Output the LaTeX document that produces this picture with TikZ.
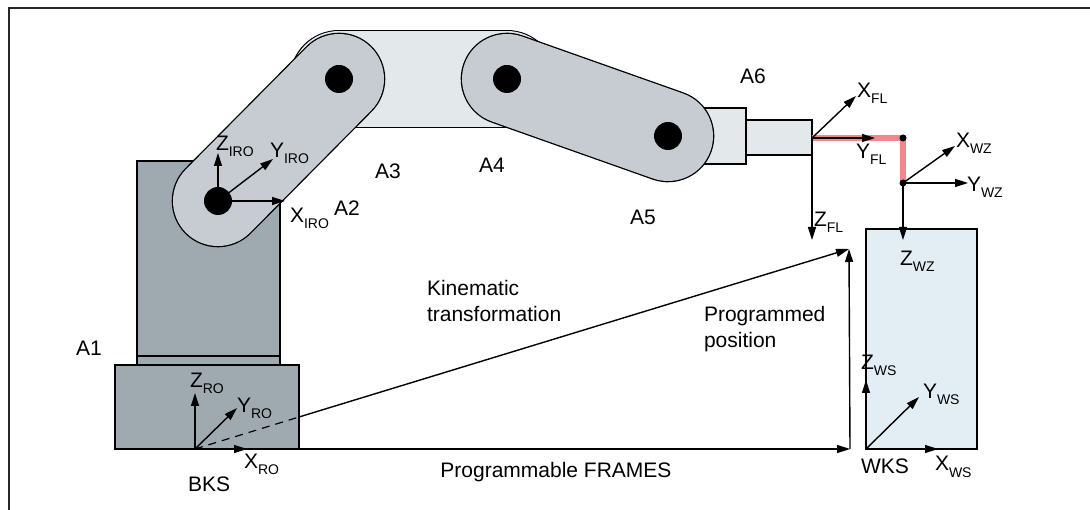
\documentclass[tikz,border=0pt]{standalone}
\usepackage{fontspec}
\setmainfont{Liberation Sans}
\usetikzlibrary{arrows.meta}
\definecolor{pedestal}{HTML}{9EA9B0}
\definecolor{linkgrey}{HTML}{C6CCD2}
\definecolor{lightpart}{HTML}{E3E8EB}
\definecolor{workpiece}{HTML}{E2EEF3}
\definecolor{tcpred}{HTML}{EF878C}
% axis name with lowered subscript
\newcommand\axl[2]{#1\raisebox{-6pt}{\fontsize{14}{14}\selectfont #2}}
\begin{document}
\begin{tikzpicture}[x=1pt,y=-1pt,
  every node/.style={font=\fontsize{21}{26}\selectfont, inner sep=0pt, outer sep=0pt},
  lbl/.style={anchor=base west},
  axis/.style={line width=1.4pt, -{Triangle[length=13pt,width=8pt]}},
  part/.style={draw=black, line width=1.3pt},
  dot/.style={circle, fill=black, minimum size=#1, inner sep=0pt},
]
\useasboundingbox (0,0) rectangle (1090,510);

% outer frame (top and left edges)
\coordinate (FB) at (9,510);
\coordinate (FC) at (9,8);
\coordinate (FR) at (1090,8);
\draw[line width=2.2pt, draw=black!85] (FB) -- (FC) -- (FR);

% joint centres
\coordinate (J2) at (218,201);
\coordinate (J3) at (339,79);
\coordinate (J4) at (507,79);
\coordinate (J5) at (668,136);

% robot pedestal and base
\draw[part, fill=pedestal] (137,161) rectangle (280,365);
\draw[part] (137,356) -- (280,356);
\draw[part, fill=pedestal] (115,365) rectangle (299,449);

% connector between the two arms
\draw[line cap=round, line width=98.6pt] (J3) -- (J4);
\draw[line cap=round, line width=96pt, lightpart] (J3) -- (J4);

% upper arm
\draw[line cap=round, line width=92.6pt] (J2) -- (J3);
\draw[line cap=round, line width=90pt, linkgrey] (J2) -- (J3);

% wrist and flange stub
\draw[part, fill=lightpart] (690,108) rectangle (746,164);
\draw[part, fill=lightpart] (746,120) rectangle (812,155);

% forearm
\draw[line cap=round, line width=92.6pt] (J4) -- (J5);
\draw[line cap=round, line width=90pt, linkgrey] (J4) -- (J5);

% workpiece
\draw[part, fill=workpiece] (866,229) rectangle (977,449);

% IRO frame at A2
\draw[axis] (J2) -- (218,153);
\draw[axis] (J2) -- (273,159);
\draw[axis] (J2) -- (285,201);

% joint markers
\node[dot=28pt] (D2) at (J2) {};
\node[dot=28pt] (D3) at (J3) {};
\node[dot=28pt] (D4) at (J4) {};
\node[dot=28pt] (D5) at (J5) {};

% tool offset (flange to tool centre point)
\coordinate (FL) at (812,138);
\coordinate (TK) at (903,138);
\coordinate (WZ) at (903,183);
\draw[tcpred, line width=6pt] (FL) -- (TK) -- (WZ);
\node[dot=7pt] (DK) at (TK) {};
\node[dot=7pt] (DW) at (WZ) {};

% flange frame
\draw[axis] (FL) -- (856,96);
\draw[axis] (FL) -- (875,138);
\draw[axis] (FL) -- (812,240);

% tool frame
\draw[axis] (WZ) -- (955,146);
\draw[axis] (WZ) -- (968,183);
\draw[axis] (WZ) -- (903,240);

% base frame
\coordinate (ORO) at (195,449);
\draw[axis] (ORO) -- (195,393);
\draw[axis] (ORO) -- (237,408);
\draw[axis] (ORO) -- (247,449);

% workpiece frame
\coordinate (OWS) at (866,449);
\draw[axis] (OWS) -- (866,380);
\draw[axis] (OWS) -- (919,397);
\draw[axis] (OWS) -- (938,449);

% transformations
\coordinate (P) at (849,249);
\coordinate (Q) at (850,449);
\coordinate (KT) at (299,417);
\draw[line width=1.2pt, dash pattern=on 8pt off 6pt] (ORO) -- (KT);
\draw[axis] (KT) -- (P);
\draw[axis] (ORO) -- (Q);
\draw[axis] (Q) -- (P);

% labels
\node[lbl] (lA1) at (76,356) {A1};
\node[lbl] (lA2) at (334,216) {A2};
\node[lbl] (lA3) at (375,179) {A3};
\node[lbl] (lA4) at (479,173) {A4};
\node[lbl] (lA5) at (630,225) {A5};
\node[lbl] (lA6) at (740,84) {A6};

\node[lbl] (lZIRO) at (216,151) {\axl{Z}{IRO}};
\node[lbl] (lYIRO) at (270,158) {\axl{Y}{IRO}};
\node[lbl] (lXIRO) at (290,223) {\axl{X}{IRO}};

\node[lbl] (lXFL) at (857,98) {\axl{X}{FL}};
\node[lbl] (lYFL) at (856,159) {\axl{Y}{FL}};
\node[lbl] (lZFL) at (814,227) {\axl{Z}{FL}};

\node[lbl] (lXWZ) at (956,148) {\axl{X}{WZ}};
\node[lbl] (lYWZ) at (967,192) {\axl{Y}{WZ}};
\node[lbl] (lZWZ) at (900,266) {\axl{Z}{WZ}};

\node[lbl] (lZRO) at (190,388) {\axl{Z}{RO}};
\node[lbl] (lYRO) at (237,413) {\axl{Y}{RO}};
\node[lbl] (lXRO) at (244,468) {\axl{X}{RO}};
\node[lbl] (lBKS) at (188,491) {BKS};

\node[lbl] (lZWS) at (861,370) {\axl{Z}{WS}};
\node[lbl] (lYWS) at (923,399) {\axl{Y}{WS}};
\node[lbl] (lXWS) at (935,471) {\axl{X}{WS}};
\node[lbl] (lWKS) at (861,473) {WKS};

\node[anchor=north west, align=left] (lKin) at (427,280) {Kinematic\\transformation};
\node[anchor=north west, align=left] (lPos) at (704,306) {Programmed\\position};
\node[anchor=base] (lFrm) at (556,478) {Programmable FRAMES};
\end{tikzpicture}
\end{document}
